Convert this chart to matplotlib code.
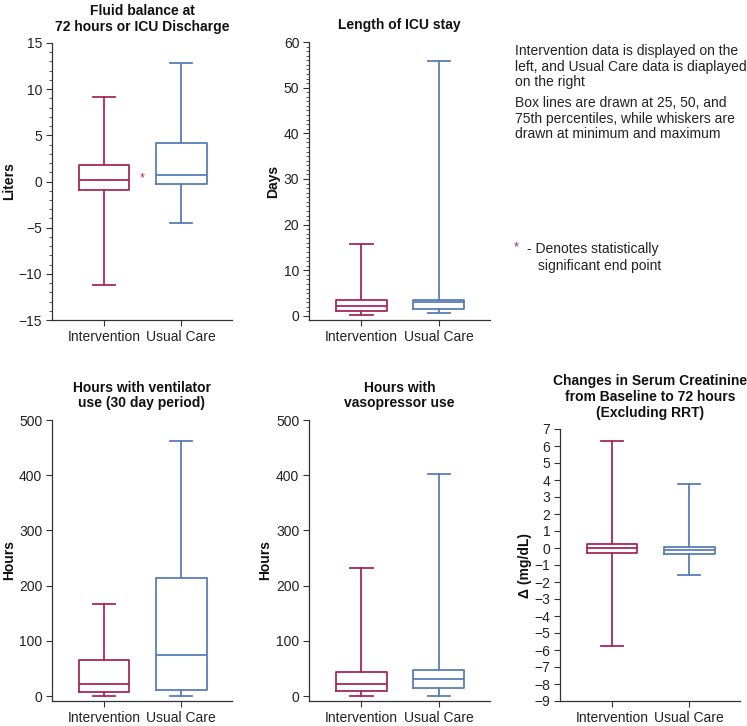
import matplotlib
matplotlib.use("Agg")
import matplotlib.pyplot as plt
from matplotlib.ticker import MultipleLocator

plt.rcParams['font.family'] = ['Liberation Sans', 'DejaVu Sans']
plt.rcParams['font.size'] = 10

groups = ["Intervention", "Usual Care"]
INT_COLOR = "#a82858"
UC_COLOR = "#5a7db5"

# five-number summaries: min, q1, median, q3, max
fluid_int = [-11.2, -0.9, 0.15, 1.8, 9.2]
fluid_uc = [-4.45, -0.25, 0.7, 4.2, 12.8]
icu_int = [0.2, 1.0, 2.2, 3.6, 15.7]
icu_uc = [0.6, 1.5, 3.0, 3.6, 55.8]
vent_int = [0.6, 8, 21, 65, 166]
vent_uc = [0.6, 11, 75, 213, 462]
vaso_int = [0.0, 9, 21, 44, 232]
vaso_uc = [0.6, 15, 31, 48, 402]
creat_int = [-5.78, -0.27, -0.02, 0.22, 6.27]
creat_uc = [-1.61, -0.37, -0.13, 0.08, 3.78]

titles = ["Fluid balance at\n72 hours or ICU Discharge",
          "Length of ICU stay",
          "Hours with ventilator\nuse (30 day period)",
          "Hours with\nvasopressor use",
          "Changes in Serum Creatinine\nfrom Baseline to 72 hours\n(Excluding RRT)"]
ylabels = ["Liters", "Days", "Hours", "Hours", "Δ (mg/dL)"]

note1 = "Intervention data is displayed on the\nleft, and Usual Care data is diaplayed\non the right"
note2 = "Box lines are drawn at 25, 50, and\n75th percentiles, while whiskers are\ndrawn at minimum and maximum"
note3a = "- Denotes statistically"
note3b = "significant end point"

W, H = 747, 726
fig = plt.figure(figsize=(W / 100, H / 100), dpi=100)


def add_ax(left, right, top, bottom):
    return fig.add_axes([left / W, 1 - bottom / H, (right - left) / W, (bottom - top) / H])


def stats(v, label):
    return dict(whislo=v[0], q1=v[1], med=v[2], q3=v[3], whishi=v[4], fliers=[], label=label)


def draw(ax, a, b, title, ylabel, ylim, major, minor=None, labelx=-0.22):
    for vals, pos, col, lab in [(a, 1, INT_COLOR, groups[0]), (b, 2, UC_COLOR, groups[1])]:
        ax.bxp([stats(vals, lab)], positions=[pos], widths=0.66, capwidths=0.29,
               showfliers=False,
               boxprops=dict(color=col, linewidth=1.3),
               medianprops=dict(color=col, linewidth=1.3),
               whiskerprops=dict(color=col, linewidth=1.3),
               capprops=dict(color=col, linewidth=1.3))
    ax.set_xlim(0.325, 2.66)
    ax.set_ylim(*ylim)
    ax.set_xticks([1, 2])
    ax.set_xticklabels(groups)
    ax.yaxis.set_major_locator(MultipleLocator(major))
    if minor:
        ax.yaxis.set_minor_locator(MultipleLocator(minor))
    ax.spines['top'].set_visible(False)
    ax.spines['right'].set_visible(False)
    for s in ['left', 'bottom']:
        ax.spines[s].set_color('#333333')
        ax.spines[s].set_linewidth(0.9)
    ax.tick_params(axis='both', which='major', length=4, width=0.8, color='#333333',
                   labelsize=10, labelcolor='#222222', pad=3)
    ax.tick_params(axis='y', which='minor', length=2.5, width=0.7, color='#555555')
    ax.set_title(title, fontsize=10, fontweight='bold', pad=9, linespacing=1.15, color='#111111')
    ax.set_ylabel(ylabel, fontsize=10, fontweight='bold', color='#111111')
    ax.yaxis.set_label_coords(labelx, 0.5)


ax1 = add_ax(52, 232, 43, 320)
draw(ax1, fluid_int, fluid_uc, titles[0], ylabels[0], (-15, 15), 5, 1, labelx=-0.2)
ax1.text(1.5, 0.3, "*", color=INT_COLOR, ha='center', va='center', fontsize=9)

ax2 = add_ax(309, 490, 42, 320)
draw(ax2, icu_int, icu_uc, titles[1], ylabels[1], (-0.88, 60), 10, 1, labelx=-0.16)

ax4 = add_ax(52, 232, 420, 701)
draw(ax4, vent_int, vent_uc, titles[2], ylabels[2], (-9, 500), 100, labelx=-0.2)

ax5 = add_ax(309, 490, 420, 701)
draw(ax5, vaso_int, vaso_uc, titles[3], ylabels[3], (-9, 500), 100, labelx=-0.205)

ax6 = add_ax(560, 740, 429, 701)
draw(ax6, creat_int, creat_uc, titles[4], ylabels[4], (-9, 7), 1, labelx=-0.155)

fig.text(515 / W, 1 - 44 / H, note1, ha='left', va='top', fontsize=10, linespacing=1.15, color='#222222')
fig.text(515 / W, 1 - 96 / H, note2, ha='left', va='top', fontsize=10, linespacing=1.15, color='#222222')
fig.text(516 / W, 1 - 247 / H, "*", ha='center', va='center', fontsize=9, color=INT_COLOR)
fig.text(527 / W, 1 - 249 / H, note3a, ha='left', va='center', fontsize=10, color='#222222')
fig.text(538 / W, 1 - 266 / H, note3b, ha='left', va='center', fontsize=10, color='#222222')

fig.savefig("out.png", dpi=100, facecolor='white')
